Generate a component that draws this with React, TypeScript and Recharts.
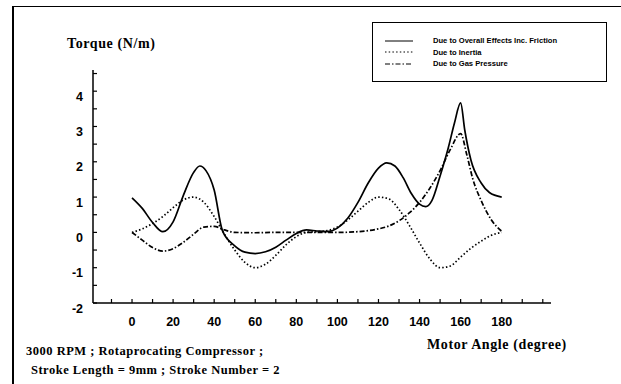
import React from 'react';
import { LineChart, Line, XAxis, YAxis } from 'recharts';

// motor angle (degree) -> torque (N/m)
const overallAngles = [0, 5, 10, 15, 20, 25, 30, 33, 36, 40, 44, 50, 55, 60, 65, 70, 75, 80, 85, 90, 95, 100, 105, 110, 115, 120, 124, 128, 132, 136, 140, 143, 146, 150, 154, 157, 160, 162, 165, 170, 174, 180];
const overallTorque = [0.98, 0.68, 0.28, 0.02, 0.3, 1.05, 1.7, 1.88, 1.75, 1.2, 0.05, -0.38, -0.56, -0.6, -0.55, -0.42, -0.22, -0.03, 0.07, 0.04, 0.02, 0.12, 0.4, 0.85, 1.4, 1.82, 1.97, 1.88, 1.55, 1.1, 0.8, 0.73, 0.9, 1.6, 2.4, 3.1, 3.67, 2.9, 2.05, 1.4, 1.13, 1.0];

const inertiaAngles = [0, 5, 10, 15, 20, 25, 30, 35, 40, 45, 50, 55, 60, 65, 70, 75, 80, 85, 90, 95, 100, 105, 110, 115, 120, 125, 130, 135, 140, 145, 150, 155, 160, 165, 170, 175, 180];
const inertiaTorque = [0, 0.1, 0.25, 0.45, 0.7, 0.92, 1.0, 0.85, 0.45, -0.05, -0.5, -0.85, -1.0, -0.9, -0.65, -0.35, -0.12, 0.0, 0.02, 0.05, 0.15, 0.35, 0.6, 0.85, 1.0, 0.95, 0.65, 0.2, -0.3, -0.75, -1.0, -0.95, -0.7, -0.45, -0.25, -0.08, 0];

const gasAngles = [0, 5, 10, 15, 20, 25, 30, 35, 40, 45, 50, 60, 70, 80, 90, 100, 110, 115, 120, 125, 130, 135, 140, 145, 150, 155, 160, 163, 166, 170, 175, 180];
const gasTorque = [0, -0.22, -0.43, -0.53, -0.46, -0.28, -0.05, 0.15, 0.17, 0.07, 0.0, -0.01, 0.0, 0.0, 0.0, 0.0, 0.02, 0.05, 0.1, 0.18, 0.33, 0.55, 0.85, 1.25, 1.75, 2.35, 2.8, 2.2, 1.5, 0.9, 0.35, 0.03];

const seriesNames = ['Due to Overall Effects Inc. Friction', 'Due to Inertia', 'Due to Gas Pressure'];
const xTicks = [-10, 0, 10, 20, 30, 40, 50, 60, 70, 80, 90, 100, 110, 120, 130, 140, 150, 160, 170, 180, 190, 200];
const xLabels = [0, 20, 40, 60, 80, 100, 120, 140, 160, 180];
const yTicks = [-2, -1.5, -1, -0.5, 0, 0.5, 1, 1.5, 2, 2.5, 3, 3.5, 4, 4.5];
const yLabels = [-2, -1, 0, 1, 2, 3, 4];

const toPoints = (angles: number[], vals: number[]) => angles.map((a, i) => ({ angle: a, v: vals[i] }));

const dashes = ['', '1.5 2.2', '5 2 1.5 2'];

const XTick = ({ x, y, payload }: any) => (
  <g>
    <line x1={x} x2={x} y1={y} y2={y - 4} stroke="#000" strokeWidth={1.2} />
    {xLabels.includes(payload.value) && (
      <text x={x} y={y + 23} textAnchor="middle" fontSize={12.5} fontWeight="bold" fontFamily="Liberation Sans, Arial" fill="#000">
        {payload.value}
      </text>
    )}
  </g>
);

const YTick = ({ x, y, payload }: any) => (
  <g>
    <line x1={x} x2={x + 4} y1={y} y2={y} stroke="#000" strokeWidth={1.2} />
    {yLabels.includes(payload.value) && (
      <text x={x - 10} y={y + 9.5} textAnchor="end" fontSize={12.5} fontWeight="bold" fontFamily="Liberation Sans, Arial" fill="#000">
        {payload.value}
      </text>
    )}
  </g>
);

// legend box drawn on top of the chart, top right
const LegendBox = () => (
  <div style={{ position: 'absolute', left: 372, top: 22, border: '1.5px solid #000', width: 235, height: 60, boxSizing: 'border-box', background: '#fff' }}>
    {seriesNames.map((n, i) => (
      <div key={n} style={{ display: 'flex', alignItems: 'center', height: 11.5, marginTop: i === 0 ? 12 : 0 }}>
        <svg width={60} height={8}>
          <line x1={12} x2={40} y1={4} y2={4} stroke="#000" strokeWidth={1} strokeDasharray={dashes[i] || undefined} />
        </svg>
        <span style={{ fontFamily: 'Liberation Sans, Arial', fontWeight: 'bold', fontSize: 7.6, color: '#000' }}>{n}</span>
      </div>
    ))}
  </div>
);

const serif = { fontFamily: 'Liberation Serif, Times New Roman, serif', fontWeight: 'bold' as const, color: '#000', position: 'absolute' as const, whiteSpace: 'nowrap' as const };

export default function App() {
  const data = [toPoints(overallAngles, overallTorque), toPoints(inertiaAngles, inertiaTorque), toPoints(gasAngles, gasTorque)];
  return (
    <div style={{ position: 'absolute', left: 0, top: 0, width: 621, height: 384, background: '#fff', overflow: 'hidden' }}>
      <div style={{ position: 'absolute', left: 12, top: 6, width: 640, height: 400, borderLeft: '2px solid #000', borderTop: '1.5px solid #000' }} />
      <LineChart width={621} height={384} margin={{ top: 70, right: 70, bottom: 51, left: 53 }}>
        <XAxis dataKey="angle" type="number" domain={[-19, 204]} ticks={xTicks} allowDataOverflow
          height={30} tickSize={0} tickMargin={0} tick={<XTick />} stroke="#000" strokeWidth={1.5} interval={0} />
        <YAxis type="number" domain={[-2, 4.6]} ticks={yTicks} allowDataOverflow
          width={40} tickSize={0} tickMargin={0} tick={<YTick />} stroke="#000" strokeWidth={1.5} interval={0} />
        {data.map((d, i) => (
          <Line key={seriesNames[i]} data={d} name={seriesNames[i]} dataKey="v" type="monotone" stroke="#000"
            strokeWidth={1.7} strokeDasharray={dashes[i] || undefined} dot={false} isAnimationActive={false} />
        ))}
      </LineChart>
      <LegendBox />
      <div style={{ ...serif, left: 67, top: 36, fontSize: 14, letterSpacing: 0.6 }}>Torque (N/m)</div>
      <div style={{ ...serif, left: 427, top: 337, fontSize: 14, letterSpacing: 0.6 }}>Motor Angle (degree)</div>
      <div style={{ ...serif, left: 26, top: 344, fontSize: 12.5, letterSpacing: 0.5 }}>3000 RPM ; Rotaprocating Compressor ;</div>
      <div style={{ ...serif, left: 31, top: 363, fontSize: 12.5, letterSpacing: 0.5 }}>Stroke Length = 9mm ; Stroke Number = 2</div>
    </div>
  );
}
